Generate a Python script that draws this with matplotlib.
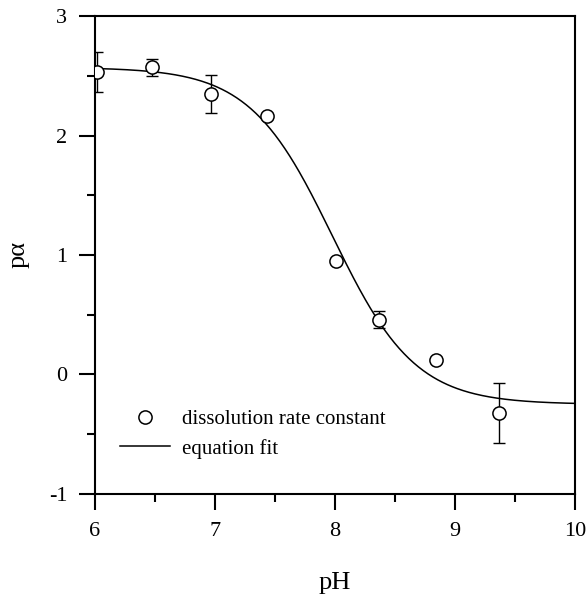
import numpy as np
import matplotlib
matplotlib.use("Agg")
import matplotlib.pyplot as plt
from matplotlib.ticker import MultipleLocator

plt.rcParams['font.family'] = ['Liberation Serif', 'DejaVu Serif']
plt.rcParams['axes.unicode_minus'] = False

# Measured dissolution rate constants
ph = [6.02, 6.48, 6.97, 7.44, 8.01, 8.37, 8.84, 9.37]
p_alpha = [2.53, 2.57, 2.35, 2.16, 0.95, 0.46, 0.12, -0.32]
p_alpha_err = [0.17, 0.07, 0.16, 0.0, 0.0, 0.07, 0.0, 0.25]

# Sigmoidal fit parameters: upper plateau, lower plateau, midpoint pH, slope
fit_high = 2.57
fit_low = -0.25
fit_mid = 7.98
fit_slope = 1.26

fig = plt.figure(figsize=(5.87, 5.98), dpi=100)
ax = fig.add_axes([0.161, 0.174, 0.8186, 0.7992])

ph_fit = np.linspace(6.0, 10.0, 400)
p_fit = fit_low + (fit_high - fit_low) / (1 + 10 ** (fit_slope * (ph_fit - fit_mid)))
ax.plot(ph_fit, p_fit, color='black', lw=1.1, label='equation fit', zorder=2)

err = [e if e > 0 else np.nan for e in p_alpha_err]
ax.errorbar(ph, p_alpha, yerr=err, fmt='none', ecolor='black',
            elinewidth=1.0, capsize=4, capthick=1.0, zorder=3)
ax.plot(ph, p_alpha, linestyle='none', marker='o', markersize=9.5,
        markerfacecolor='white', markeredgecolor='black', markeredgewidth=1.1,
        label='dissolution rate constant', zorder=4)

ax.set_xlim(6, 10)
ax.set_ylim(-1, 3)
ax.xaxis.set_major_locator(MultipleLocator(1))
ax.xaxis.set_minor_locator(MultipleLocator(0.5))
ax.yaxis.set_major_locator(MultipleLocator(1))
ax.yaxis.set_minor_locator(MultipleLocator(0.5))

for s in ax.spines.values():
    s.set_linewidth(1.5)

ax.tick_params(which='major', direction='out', length=11.5, width=1.5,
               labelsize=16, top=False, right=False)
ax.tick_params(which='minor', direction='out', length=6, width=1.5,
               top=False, right=False)
ax.tick_params(axis='y', which='major', pad=8)
ax.tick_params(axis='x', which='major', pad=9)

ax.set_xlabel('pH', fontsize=19, labelpad=22)
ax.set_ylabel('pα', fontsize=19, labelpad=14)

handles, labels = ax.get_legend_handles_labels()
ax.legend(handles[::-1], labels[::-1], frameon=False, loc='upper left',
          bbox_to_anchor=(0.053, 0.176), borderaxespad=0, borderpad=0,
          fontsize=15, handlelength=2.4, handletextpad=0.6, labelspacing=0.45)

fig.savefig('out.png', dpi=100)
